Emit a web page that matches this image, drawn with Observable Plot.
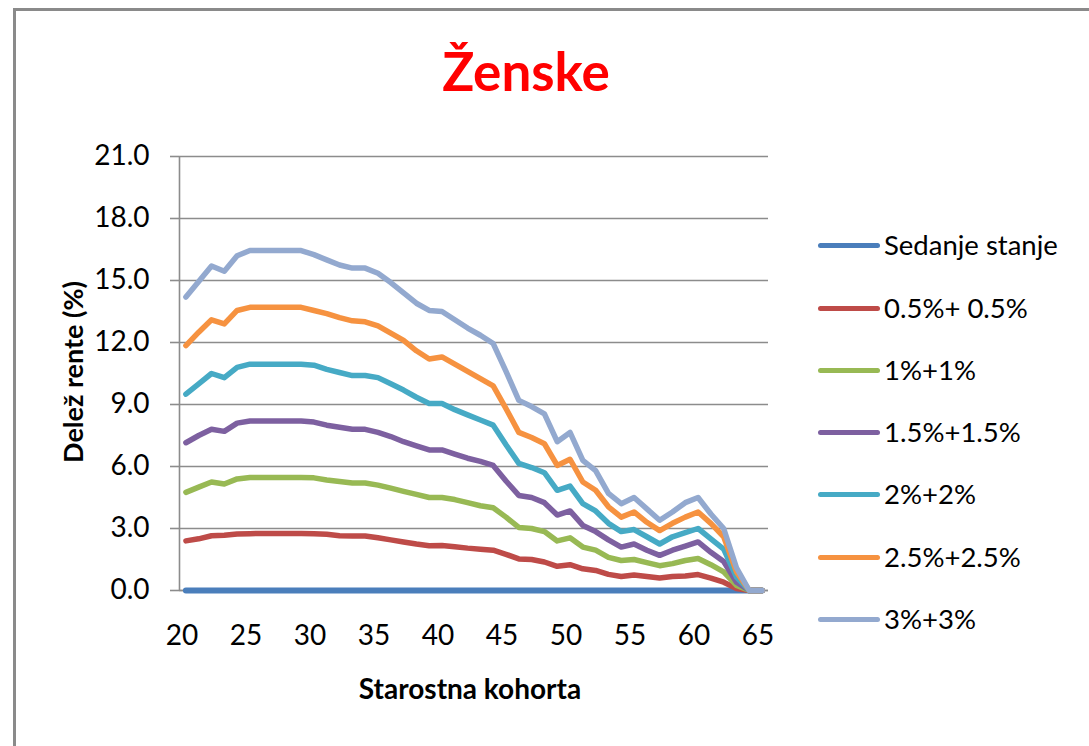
<!DOCTYPE html>
<html>
<head>
<meta charset="utf-8">
<script src="https://cdn.jsdelivr.net/npm/d3@7"></script>
<script src="https://cdn.jsdelivr.net/npm/@observablehq/plot@0.6"></script>
<style>
  html, body { margin: 0; padding: 0; background: #fff; }
  body { width: 1089px; height: 746px; position: relative; overflow: hidden; font-family: Lato, "Open Sans", sans-serif; }
  #frame { position: absolute; left: 13px; top: 8px; width: 1100px; height: 760px; border-top: 3px solid #8a8a8a; border-left: 3px solid #8a8a8a; box-sizing: border-box; }
  #chart { position: absolute; left: 0; top: 0; }
  .txt { position: absolute; white-space: nowrap; color: #000; }
  #title { left: 0; width: 1052px; text-align: center; top: 44px; font-size: 53px; font-weight: 700; color: #ff0000; line-height: 1; }
  #xtitle { left: 270px; width: 400px; text-align: center; top: 674px; font-size: 28px; font-weight: 700; line-height: 1; }
  #ytitle { left: 72px; top: 372px; transform: translate(-50%, -50%) rotate(-90deg); font-size: 27px; font-weight: 700; line-height: 1; }
  #legend { position: absolute; left: 818px; top: 0; width: 271px; }
  .item { position: absolute; left: 0; height: 30px; display: flex; align-items: center; white-space: nowrap; }
  .swatch { flex: none; width: 62px; height: 5px; border-radius: 3px; margin-right: 4px; }
  .label { flex: none; font-size: 27.5px; color: #000; line-height: 1; white-space: nowrap; }
</style>
</head>
<body>
<div id="frame"></div>
<div id="chart"></div>
<div id="title" class="txt">Ženske</div>
<div id="xtitle" class="txt">Starostna kohorta</div>
<div id="ytitle" class="txt">Delež rente (%)</div>
<div id="legend"></div>
<script>
const ages = d3.range(20, 66);
const seriesNames = ["Sedanje stanje", "0.5%+ 0.5%", "1%+1%", "1.5%+1.5%", "2%+2%", "2.5%+2.5%", "3%+3%"];
const seriesColors = ["#4A7EBB", "#BE4B48", "#98B954", "#7D60A0", "#46AAC5", "#F69240", "#93A9CF"];
const yTicks = [0, 3, 6, 9, 12, 15, 18, 21];
const xTicks = [20, 25, 30, 35, 40, 45, 50, 55, 60, 65];

const sedanje = ages.map(() => 0);
const s05 = [2.4, 2.5, 2.65, 2.67, 2.73, 2.75, 2.76, 2.76, 2.76, 2.76, 2.75, 2.72, 2.65, 2.64, 2.64, 2.55, 2.45, 2.35, 2.25, 2.17, 2.18, 2.12, 2.05, 2.0, 1.95, 1.75, 1.53, 1.5, 1.38, 1.17, 1.25, 1.05, 0.97, 0.78, 0.68, 0.75, 0.68, 0.6, 0.68, 0.7, 0.77, 0.6, 0.4, 0.1, 0, 0];
const s1 = [4.75, 5.0, 5.25, 5.15, 5.4, 5.47, 5.47, 5.47, 5.47, 5.47, 5.45, 5.35, 5.27, 5.2, 5.2, 5.1, 4.95, 4.8, 4.65, 4.5, 4.5, 4.4, 4.25, 4.1, 4.0, 3.55, 3.05, 3.0, 2.85, 2.4, 2.55, 2.1, 1.95, 1.6, 1.45, 1.5, 1.35, 1.2, 1.3, 1.45, 1.55, 1.25, 0.9, 0.25, 0, 0];
const s15 = [7.15, 7.5, 7.8, 7.7, 8.1, 8.2, 8.2, 8.2, 8.2, 8.2, 8.15, 8.0, 7.9, 7.8, 7.8, 7.65, 7.45, 7.2, 7.0, 6.8, 6.8, 6.6, 6.4, 6.25, 6.05, 5.3, 4.6, 4.5, 4.25, 3.65, 3.85, 3.15, 2.85, 2.45, 2.1, 2.25, 1.95, 1.7, 1.95, 2.15, 2.35, 1.85, 1.4, 0.4, 0, 0];
const s2 = [9.5, 10.0, 10.5, 10.3, 10.8, 10.95, 10.95, 10.95, 10.95, 10.95, 10.9, 10.7, 10.55, 10.4, 10.4, 10.3, 10.0, 9.7, 9.35, 9.05, 9.05, 8.75, 8.5, 8.25, 8.0, 7.05, 6.15, 5.95, 5.7, 4.85, 5.05, 4.2, 3.85, 3.25, 2.85, 2.95, 2.6, 2.25, 2.6, 2.8, 3.0, 2.5, 2.0, 0.65, 0, 0];
const s25 = [11.85, 12.5, 13.1, 12.9, 13.55, 13.7, 13.7, 13.7, 13.7, 13.7, 13.55, 13.4, 13.2, 13.05, 13.0, 12.8, 12.45, 12.1, 11.6, 11.2, 11.3, 10.95, 10.6, 10.25, 9.9, 8.8, 7.65, 7.4, 7.1, 6.05, 6.35, 5.25, 4.85, 4.05, 3.55, 3.8, 3.3, 2.9, 3.25, 3.55, 3.8, 3.25, 2.6, 0.9, 0, 0];
const s3 = [14.2, 14.95, 15.7, 15.45, 16.2, 16.45, 16.45, 16.45, 16.45, 16.45, 16.25, 16.0, 15.75, 15.6, 15.6, 15.35, 14.9, 14.4, 13.9, 13.55, 13.5, 13.1, 12.7, 12.35, 11.95, 10.6, 9.2, 8.9, 8.55, 7.2, 7.65, 6.3, 5.8, 4.7, 4.2, 4.5, 3.95, 3.4, 3.8, 4.25, 4.5, 3.7, 3.0, 1.1, 0, 0];

const seriesValues = [sedanje, s05, s1, s15, s2, s25, s3];
const rows = [];
seriesNames.forEach((name, i) => {
  ages.forEach((a, j) => rows.push({series: name, age: a, value: seriesValues[i][j]}));
});

const gridColor = "#8c8c8c";
const chart = Plot.plot({
  width: 1089,
  height: 746,
  marginLeft: 179,
  marginRight: 321,
  marginTop: 156,
  marginBottom: 156,
  style: {fontFamily: "Lato, 'Open Sans', sans-serif", background: "transparent", overflow: "visible"},
  x: {domain: [19.5, 65.5], label: null},
  y: {domain: [0, 21], label: null},
  marks: [
    Plot.gridY(yTicks, {stroke: gridColor, strokeOpacity: 1, strokeWidth: 1.6}),
    Plot.ruleX([19.5], {stroke: gridColor, strokeWidth: 1.6}),
    Plot.axisY(yTicks, {tickSize: 9, tickPadding: 21, tickFormat: d3.format(".1f"), stroke: gridColor, strokeWidth: 1.6, fill: "#000", fontSize: 28, label: null}),
    Plot.axisX(xTicks, {tickSize: 0, tickPadding: 35, dx: -4, fill: "#000", fontSize: 28, label: null}),
    Plot.ruleY([0], {stroke: gridColor, strokeWidth: 1.6, x1: 19.5, x2: 65.5}),
    ...seriesNames.map((name, i) => Plot.line(rows.filter(r => r.series === name), {
      x: "age", y: "value", stroke: seriesColors[i],
      strokeWidth: i === 0 ? 6 : 5.5, strokeLinejoin: "round", strokeLinecap: "round"
    }))
  ]
});
document.getElementById("chart").appendChild(chart);

const legend = document.getElementById("legend");
const legendY = [245, 308, 370, 432, 494, 557, 619];
seriesNames.forEach((name, i) => {
  const item = document.createElement("div");
  item.className = "item";
  item.style.top = (legendY[i] - 15) + "px";
  const sw = document.createElement("div");
  sw.className = "swatch";
  sw.style.background = seriesColors[i];
  const lb = document.createElement("span");
  lb.className = "label";
  lb.textContent = name;
  item.appendChild(sw);
  item.appendChild(lb);
  legend.appendChild(item);
});
</script>
</body>
</html>
